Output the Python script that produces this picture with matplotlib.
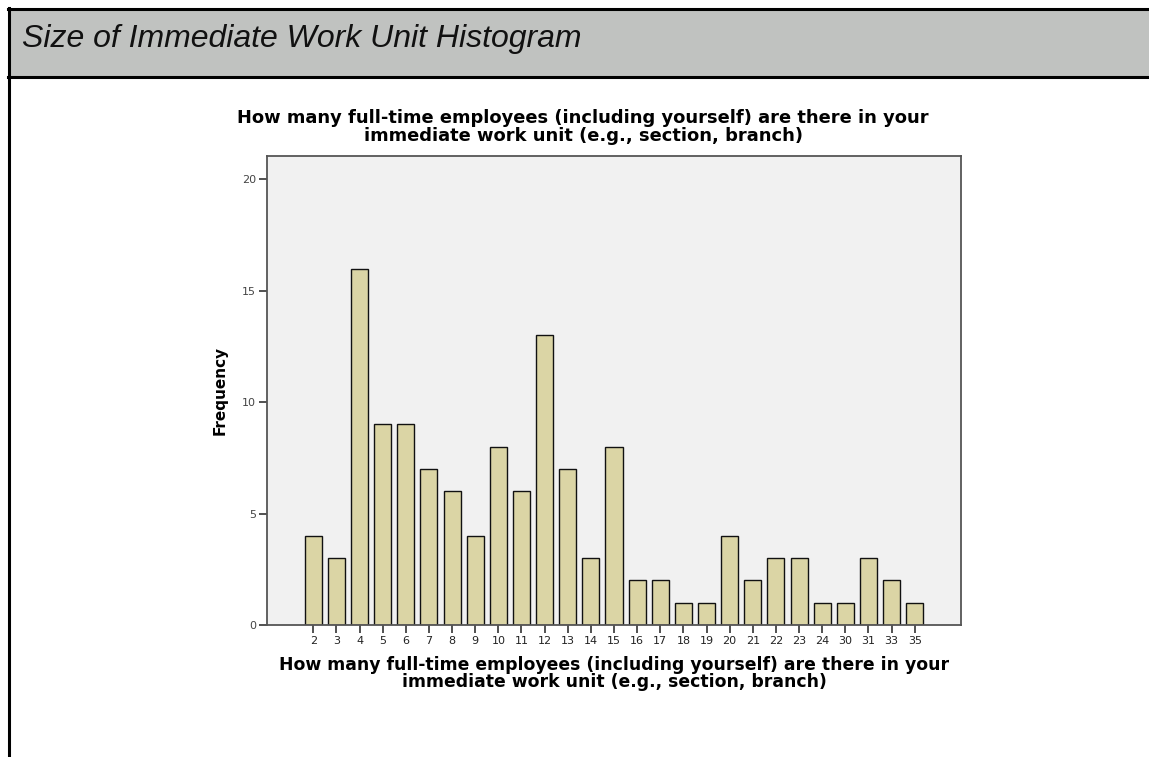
import matplotlib.pyplot as plt
from matplotlib.patches import Rectangle
from matplotlib.lines import Line2D

# Employees in immediate work unit -> frequency
categories = ['2', '3', '4', '5', '6', '7', '8', '9', '10', '11', '12', '13', '14',
              '15', '16', '17', '18', '19', '20', '21', '22', '23', '24', '30',
              '31', '33', '35']
frequency = [4, 3, 16, 9, 9, 7, 6, 4, 8, 6, 13, 7, 3,
             8, 2, 2, 1, 1, 4, 2, 3, 3, 1, 1,
             3, 2, 1]
y_ticks = [0, 5, 10, 15, 20]

header = 'Size of Immediate Work Unit Histogram'
question = ('How many full-time employees (including yourself) are there in your\n'
            'immediate work unit (e.g., section, branch)')

W, H = 1149, 757
fig = plt.figure(figsize=(W / 100, H / 100), dpi=100)
fig.patch.set_facecolor('white')


def fx(px):
    return px / W


def fy(py):
    return 1 - py / H


# header band and frame lines
fig.patches.append(Rectangle((fx(8), fy(77)), 1 - fx(8), fy(9) - fy(77),
                             transform=fig.transFigure, facecolor='#c0c2c0',
                             edgecolor='none', zorder=0))
fig.lines.append(Line2D([fx(8), 1], [fy(9), fy(9)], transform=fig.transFigure,
                        color='black', lw=2.2))
fig.lines.append(Line2D([fx(8), 1], [fy(77), fy(77)], transform=fig.transFigure,
                        color='black', lw=2.2))
fig.lines.append(Line2D([fx(9), fx(9)], [0, fy(8)], transform=fig.transFigure,
                        color='black', lw=2.2))
fig.text(fx(22), fy(39), header, fontsize=23, style='italic',
         family='Liberation Sans', va='center', ha='left', color='#111111')

ax = fig.add_axes([fx(267), fy(625), fx(961) - fx(267), fy(156) - fy(625)])
ax.set_facecolor('#f1f1f1')
x = list(range(len(categories)))
ax.bar(x, frequency, width=0.74, color='#dbd5a5', edgecolor='#111111', linewidth=1.0)
ax.set_xlim(-2.0, 28.0)
ax.set_ylim(0, 21.05)
ax.set_xticks(x)
ax.set_xticklabels(categories, fontsize=8, color='#222222')
ax.set_yticks(y_ticks)
ax.set_yticklabels([str(v) for v in y_ticks], fontsize=8, color='#444444')
ax.tick_params(axis='both', direction='out', length=6, width=1.2, color='#333333', pad=2)
for s in ax.spines.values():
    s.set_color('#555555')
    s.set_linewidth(1.3)

ax.set_ylabel('Frequency', fontsize=11, fontweight='bold', labelpad=10)
ax.set_xlabel(question, fontsize=12.4, fontweight='bold', labelpad=7, linespacing=0.95)

fig.text(fx(583), fy(127), question, fontsize=12.9, fontweight='bold',
         ha='center', va='center', linespacing=0.95)

fig.savefig('out.png', dpi=100)
